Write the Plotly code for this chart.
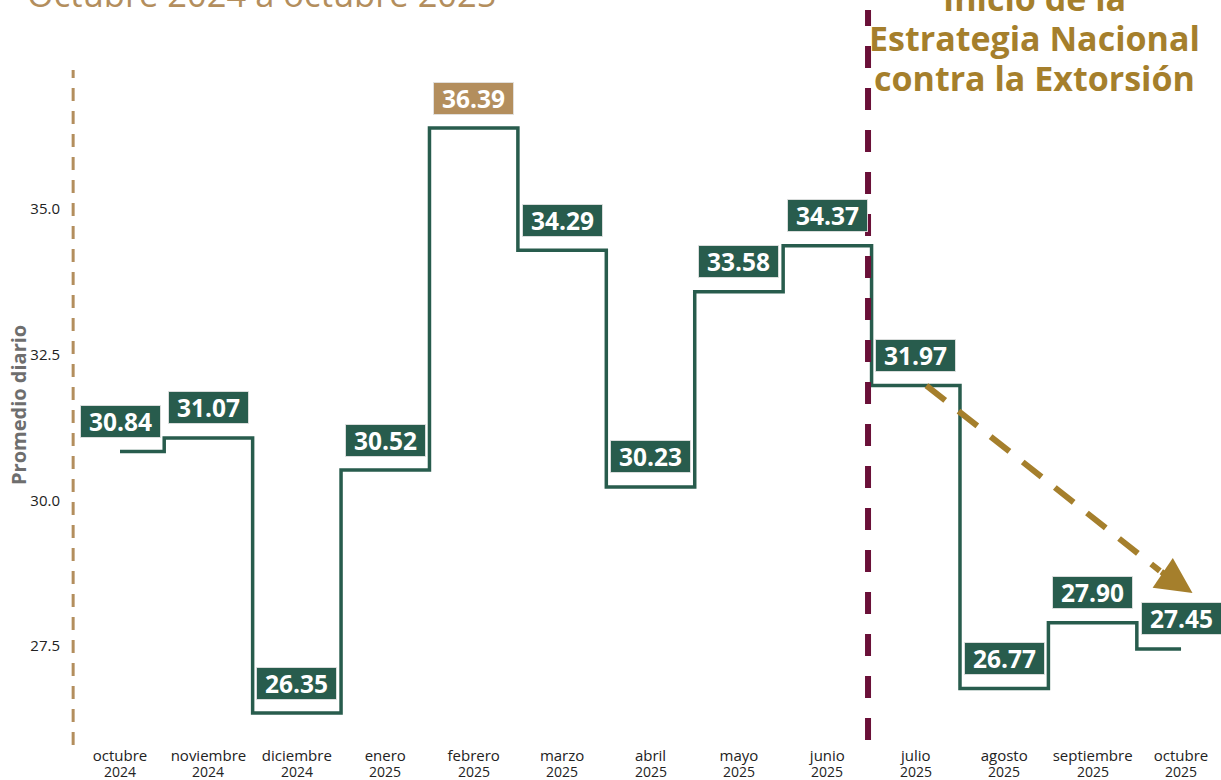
import plotly.graph_objects as go

months = ["octubre", "noviembre", "diciembre", "enero", "febrero", "marzo", "abril",
          "mayo", "junio", "julio", "agosto", "septiembre", "octubre"]
years = ["2024", "2024", "2024", "2025", "2025", "2025", "2025", "2025", "2025",
         "2025", "2025", "2025", "2025"]
values = [30.84, 31.07, 26.35, 30.52, 36.39, 34.29, 30.23, 33.58, 34.37,
          31.97, 26.77, 27.90, 27.45]
highlight_index = 4  # febrero 2025 (máximo)
y_ticks = [27.5, 30.0, 32.5, 35.0]
heading_lines = ["Inicio de la", "Estrategia Nacional", "contra la Extorsión"]

# trend arrow (data coords)
arrow_start = (9.12, 31.97)
arrow_base = (11.76, 28.79)
arrow_tip = (12.13, 28.41)
strategy_x = 8.46
series_start_x = -0.53

GREEN = "#285C4D"
TAN = "#B38E5D"
GOLD = "#A57F2C"
MAROON = "#6A1038"

x = list(range(len(values)))

PL, PR, PT, PB = 65, 0, 60, 35
H = 780 - PT - PB
W = 1221 - PL - PR
XUNIT = 88.42
X0 = -(120 - PL) / XUNIT


def py(pixel_y):
    return (780 - PB - pixel_y) / H


def px(pixel_x):
    return (pixel_x - PL) / W


fig = go.Figure()
fig.add_trace(go.Scatter(
    x=x, y=values, mode="lines",
    line=dict(shape="hvh", color=GREEN, width=3.5),
    hoverinfo="skip", showlegend=False,
))

annotations = []
for i, v in enumerate(values):
    annotations.append(dict(
        x=i, y=v, xref="x", yref="y", text=f"{v:.2f}", showarrow=False,
        yshift=30, xanchor="center", yanchor="middle",
        font=dict(family="Open Sans", size=24.5, color="white", weight="bold"),
        bgcolor=TAN if i == highlight_index else GREEN,
        bordercolor="rgba(225,225,225,0.9)", borderwidth=1, borderpad=1,
        width=77, height=29,
    ))

for i, yr in enumerate(years):
    annotations.append(dict(
        x=i, y=py(771), xref="x", yref="paper", text=yr, showarrow=False,
        xanchor="center", yanchor="middle",
        font=dict(family="Open Sans", size=14, color="#222"),
    ))

# arrow head
annotations.append(dict(
    x=arrow_tip[0], y=arrow_tip[1], ax=arrow_base[0], ay=arrow_base[1],
    xref="x", yref="y", axref="x", ayref="y", text="", showarrow=True,
    arrowhead=2, arrowsize=1.2, arrowwidth=6, arrowcolor=GOLD,
))

annotations.append(dict(
    xref="paper", yref="paper", x=px(25), y=py(19),
    xanchor="left", yanchor="bottom", showarrow=False,
    text="Octubre 2024 a octubre 2025",
    font=dict(family="Open Sans", size=34.5, color=TAN),
))
for k, line in enumerate(heading_lines):
    annotations.append(dict(
        xref="paper", yref="paper", x=px(1034), y=py(-2 + 40 * k),
        xanchor="center", yanchor="middle", showarrow=False,
        text=line,
        font=dict(family="Open Sans", size=34, color=GOLD, weight="bold"),
    ))
annotations.append(dict(
    xref="paper", yref="paper", x=px(19), y=py(405),
    xanchor="center", yanchor="middle", showarrow=False, textangle=-90,
    text="Promedio diario",
    font=dict(family="Open Sans", size=20, color="#6E6E6E", weight="bold"),
))

shapes = [
    dict(type="line", xref="x", yref="paper", x0=series_start_x, x1=series_start_x,
         y0=0, y1=py(70),
         line=dict(color=TAN, width=3, dash="13px,10px")),
    dict(type="line", xref="x", yref="paper", x0=strategy_x, x1=strategy_x,
         y0=py(740), y1=py(10),
         line=dict(color=MAROON, width=6, dash="22px,20px")),
    dict(type="line", xref="x", yref="y", x0=arrow_start[0], y0=arrow_start[1],
         x1=arrow_base[0], y1=arrow_base[1],
         line=dict(color=GOLD, width=6, dash="24px,17px")),
]

fig.update_layout(
    width=1221, height=780,
    margin=dict(l=PL, r=PR, t=PT, b=PB),
    paper_bgcolor="white", plot_bgcolor="white",
    font=dict(family="Open Sans", color="#222"),
    annotations=annotations, shapes=shapes,
    xaxis=dict(range=[X0, X0 + W / XUNIT], tickmode="array", tickvals=x,
               ticktext=months, showgrid=False, zeroline=False, showline=False,
               ticks="", tickfont=dict(size=15, color="#222"), automargin=False),
    yaxis=dict(range=[27.5 - (745 - 646) / 58.27, 35 + (209 - 60) / 58.27],
               tickmode="array", tickvals=y_ticks, tickformat=".1f",
               showgrid=False, zeroline=False, showline=False, ticks="",
               ticklabelstandoff=4,
               tickfont=dict(size=15, color="#222"), automargin=False),
)

fig.write_html(
    "out.html",
    config={"displayModeBar": False},
    post_script="document.body.style.margin='0';document.body.style.overflow='hidden';",
)
